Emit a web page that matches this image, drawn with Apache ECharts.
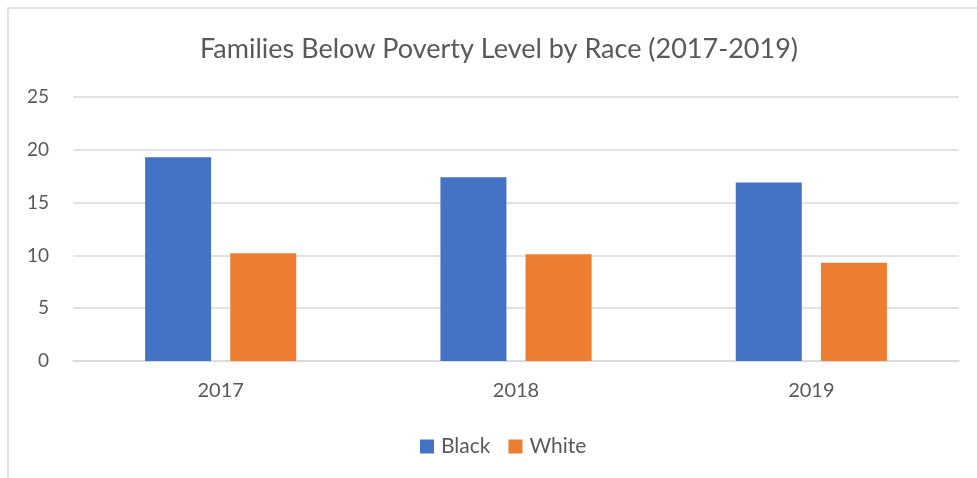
<!DOCTYPE html>
<html>
<head>
<meta charset="utf-8">
<script src="https://cdn.jsdelivr.net/npm/echarts@6/dist/echarts.min.js"></script>
<style>
  html, body { margin: 0; padding: 0; background: #fff; }
  #chart { width: 977px; height: 478px; }
</style>
</head>
<body>
<div id="chart"></div>
<script>
// Share of families below the poverty level, by race
const years = ['2017', '2018', '2019'];
const black = [19.3, 17.4, 16.9];
const white = [10.2, 10.1, 9.3];
const yTicks = [0, 5, 10, 15, 20, 25];

const textColor = '#595959';
const font = 'Lato, "Open Sans", sans-serif';

const chart = echarts.init(document.getElementById('chart'));
chart.setOption({
  animation: false,
  backgroundColor: '#fff',
  textStyle: { fontFamily: font },
  title: {
    text: 'Families Below Poverty Level by Race (2017-2019)',
    left: 195,
    top: 31,
    textStyle: { fontFamily: font, fontSize: 27, fontWeight: 'normal', color: textColor }
  },
  graphic: [{
    type: 'rect',
    shape: { x: 8, y: 8, width: 1100, height: 600 },
    style: { fill: 'none', stroke: '#d9d9d9', lineWidth: 1.5 },
    silent: true
  }],
  legend: {
    data: ['Black', 'White'],
    bottom: 16,
    left: 415,
    itemWidth: 14,
    itemHeight: 14,
    itemGap: 18,
    icon: 'rect',
    textStyle: { fontFamily: font, fontSize: 21, color: textColor, padding: [0, 0, 0, 2] }
  },
  grid: { left: 73, right: 18, top: 97, bottom: 117, containLabel: false },
  xAxis: {
    type: 'category',
    data: years,
    axisLine: { lineStyle: { color: '#d9d9d9', width: 1.5 } },
    axisTick: { show: false },
    axisLabel: { fontFamily: font, fontSize: 20, color: textColor, margin: 20 }
  },
  yAxis: {
    type: 'value',
    min: yTicks[0],
    max: yTicks[yTicks.length - 1],
    interval: 5,
    axisLine: { show: false },
    axisTick: { show: false },
    splitLine: { lineStyle: { color: '#d9d9d9', width: 1.5 } },
    axisLabel: { fontFamily: font, fontSize: 19, color: textColor, margin: 24 }
  },
  series: [
    {
      name: 'Black', type: 'bar', data: black, barWidth: 66, barGap: '29%',
      itemStyle: { color: '#4472c4' }
    },
    {
      name: 'White', type: 'bar', data: white, barWidth: 66,
      itemStyle: { color: '#ed7d31' }
    }
  ]
});
</script>
</body>
</html>
